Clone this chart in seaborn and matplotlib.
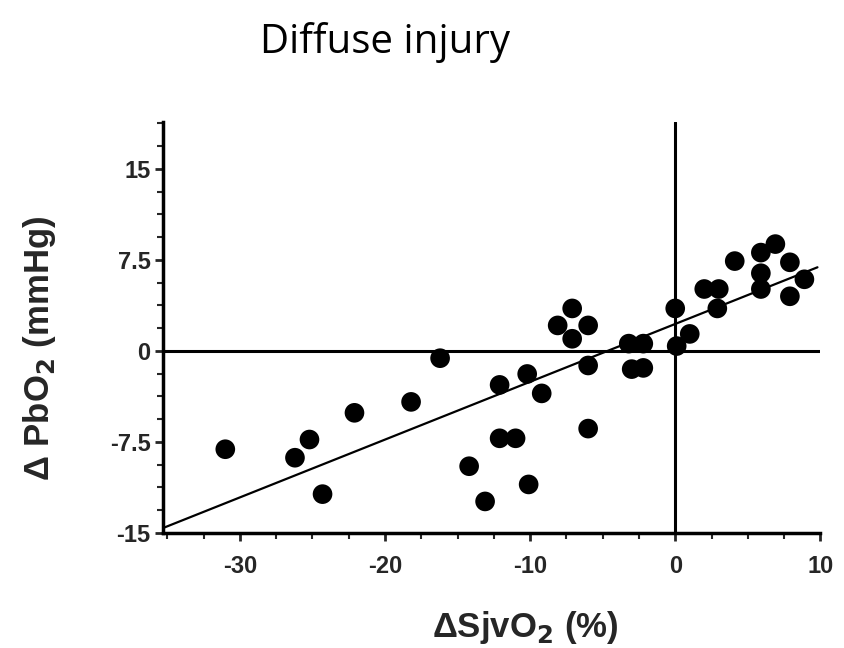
import numpy as np
import pandas as pd
import matplotlib
matplotlib.use("Agg")
import matplotlib.pyplot as plt
import seaborn as sns
from matplotlib.ticker import MultipleLocator

# Data
delta_sjvo2 = [-31.0, -26.2, -25.2, -24.3, -22.1, -18.2, -16.2, -14.2, -13.1, -12.1,
               -12.1, -11.0, -10.2, -10.1, -9.2, -8.1, -7.1, -7.1, -6.0, -6.0,
               -6.0, -3.2, -2.2, -3.0, -2.2, 0.0, 0.1, 1.0, 2.0, 3.0,
               2.9, 4.1, 5.9, 6.9, 5.9, 5.9, 7.9, 8.9, 7.9]
delta_pbo2 = [-8.1, -8.8, -7.3, -11.8, -5.1, -4.2, -0.6, -9.5, -12.4, -2.8,
              -7.2, -7.2, -1.9, -11.0, -3.5, 2.1, 3.5, 1.0, 2.1, -1.2,
              -6.4, 0.6, 0.6, -1.5, -1.4, 3.5, 0.4, 1.4, 5.1, 5.1,
              3.5, 7.4, 8.1, 8.8, 6.4, 5.1, 7.3, 5.9, 4.5]
x_ticks = [-30, -20, -10, 0, 10]
y_ticks = [-15, -7.5, 0, 7.5, 15]
y_ticklabels = ["-15", "-7.5", "0", "7.5", "15"]

df = pd.DataFrame({"x": delta_sjvo2, "y": delta_pbo2})

sns.set_style("ticks")
plt.rcParams["font.family"] = ["Liberation Sans", "DejaVu Sans"]
plt.rcParams["axes.unicode_minus"] = False

fig = plt.figure(figsize=(8.44, 6.48), dpi=100)
ax = fig.add_axes([0.193, 0.1775, 0.779, 0.635])
XLIM = (-35.3, 9.8)
YLIM = (-15, 18.9)
ax.set_xlim(*XLIM)
ax.set_ylim(*YLIM)

ax.axhline(0, color="black", lw=2.2, zorder=1)
ax.axvline(0, color="black", lw=2.2, zorder=1)

sns.regplot(data=df, x="x", y="y", ax=ax, ci=None, truncate=False,
            scatter_kws=dict(s=200, color="black", edgecolor="none", alpha=1, zorder=3),
            line_kws=dict(color="black", lw=1.6, zorder=2))
ax.set_xlim(*XLIM)
ax.set_ylim(*YLIM)

for side in ["top", "right"]:
    ax.spines[side].set_visible(False)
for side in ["left", "bottom"]:
    ax.spines[side].set_linewidth(2.5)
    ax.spines[side].set_color("black")

ax.set_xticks(x_ticks)
ax.set_xticklabels([str(t) for t in x_ticks])
ax.set_yticks(y_ticks)
ax.set_yticklabels(y_ticklabels)
ax.xaxis.set_minor_locator(MultipleLocator(2.5))
ax.yaxis.set_minor_locator(MultipleLocator(1.875))
ax.tick_params(axis="both", which="major", length=6, width=2, labelsize=17)
ax.tick_params(axis="x", which="major", pad=10)
ax.tick_params(axis="y", which="major", pad=3)
ax.tick_params(axis="both", which="minor", length=4, width=1.5)
for lab in ax.get_xticklabels() + ax.get_yticklabels():
    lab.set_fontweight("bold")

ax.set_xlabel(r"ΔSjvO$_\mathbf{2}$ (%)", fontsize=25, fontweight="bold")
ax.xaxis.set_label_coords(0.551, -0.185)
ax.set_ylabel(r"Δ PbO$_\mathbf{2}$ (mmHg)", fontsize=25, fontweight="bold")
ax.yaxis.set_label_coords(-0.16, 0.45)

fig.text(0.456, 0.935, "Diffuse injury", fontsize=29, family=["Open Sans", "DejaVu Sans"],
         ha="center", va="center", color="black")

fig.savefig("out.png", dpi=100, facecolor="white")
